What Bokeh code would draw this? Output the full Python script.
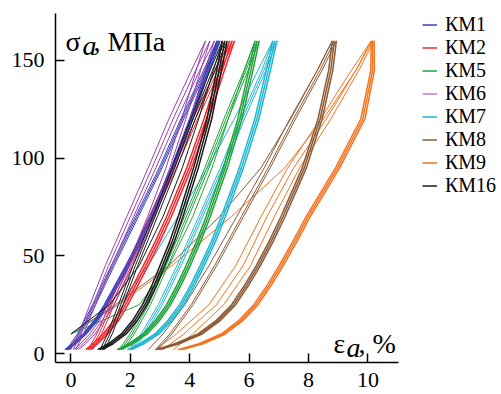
from bokeh.plotting import figure
from bokeh.models import Range1d, Legend, LegendItem, Label, FixedTicker
from bokeh.embed import file_html
from bokeh.resources import INLINE

STRESS_LOAD = [2, 5, 10, 17, 25, 35, 45, 57, 70, 95, 120, 145, 160]
STRESS_UNLOAD = [2, 10, 25, 45, 70, 95, 120, 145, 160]
STRESS_FIRST = [10, 25, 45, 70, 95, 120, 145, 160]

KM1_load = [[-0.20, 0.06, 0.41, 0.80, 1.13, 1.49, 1.85, 2.26, 2.67, 3.38, 4.00, 4.56, 4.92],
            [-0.15, 0.11, 0.46, 0.85, 1.18, 1.54, 1.90, 2.31, 2.72, 3.43, 4.05, 4.61, 4.97],
            [-0.10, 0.16, 0.51, 0.90, 1.23, 1.59, 1.95, 2.36, 2.77, 3.48, 4.10, 4.66, 5.02]]
KM1_unload = [[-0.15, 0.22, 0.73, 1.36, 2.17, 2.97, 3.70, 4.47, 4.92],
              [-0.10, 0.27, 0.78, 1.41, 2.22, 3.02, 3.75, 4.52, 4.97],
              [-0.05, 0.32, 0.83, 1.46, 2.27, 3.07, 3.80, 4.57, 5.02]]

KM6_load = [[0.10, 0.32, 0.63, 0.96, 1.25, 1.56, 1.87, 2.23, 2.58, 3.20, 3.73, 4.22, 4.53],
            [0.18, 0.41, 0.72, 1.06, 1.35, 1.67, 1.98, 2.34, 2.70, 3.33, 3.87, 4.37, 4.68],
            [0.26, 0.49, 0.81, 1.15, 1.45, 1.77, 2.09, 2.45, 2.82, 3.46, 4.01, 4.51, 4.83]]
KM6_unload = [[0.00, 0.25, 0.64, 1.16, 1.88, 2.60, 3.30, 4.06, 4.53],
              [0.08, 0.34, 0.74, 1.27, 2.00, 2.73, 3.44, 4.20, 4.68],
              [0.16, 0.42, 0.83, 1.37, 2.11, 2.86, 3.58, 4.34, 4.83]]

KM2_load = [[0.50, 0.74, 1.08, 1.45, 1.76, 2.10, 2.44, 2.83, 3.22, 3.90, 4.48, 5.01, 5.35],
            [0.58, 0.82, 1.16, 1.53, 1.84, 2.18, 2.52, 2.91, 3.30, 3.98, 4.56, 5.09, 5.43],
            [0.66, 0.90, 1.24, 1.61, 1.92, 2.26, 2.60, 2.99, 3.38, 4.06, 4.64, 5.17, 5.51]]
KM2_unload = [[0.58, 0.87, 1.30, 1.87, 2.63, 3.39, 4.11, 4.87, 5.35],
              [0.66, 0.95, 1.38, 1.95, 2.71, 3.47, 4.19, 4.95, 5.43],
              [0.74, 1.03, 1.46, 2.03, 2.79, 3.55, 4.27, 5.03, 5.51]]

KM16_load = [[0.90, 1.26, 1.70, 2.08, 2.41, 2.73, 3.00, 3.32, 3.61, 4.13, 4.58, 4.91, 5.10],
             [0.98, 1.34, 1.78, 2.16, 2.49, 2.81, 3.08, 3.40, 3.69, 4.21, 4.66, 4.99, 5.18],
             [1.06, 1.42, 1.86, 2.24, 2.57, 2.89, 3.16, 3.48, 3.77, 4.29, 4.74, 5.07, 5.26]]
KM16_unload = [[0.98, 1.23, 1.60, 2.09, 2.75, 3.41, 4.03, 4.69, 5.10],
               [1.06, 1.31, 1.68, 2.17, 2.83, 3.49, 4.11, 4.77, 5.18],
               [1.14, 1.39, 1.76, 2.25, 2.91, 3.57, 4.19, 4.85, 5.26]]
KM16_first = [0.0, 1.3, 2.3, 3.1, 3.75, 4.3, 4.8, 5.10]

KM5_load = [[1.55, 1.95, 2.43, 2.85, 3.22, 3.57, 3.88, 4.22, 4.55, 5.13, 5.62, 5.99, 6.20],
            [1.62, 2.02, 2.50, 2.92, 3.29, 3.64, 3.95, 4.29, 4.62, 5.20, 5.69, 6.06, 6.27],
            [1.69, 2.09, 2.57, 2.99, 3.36, 3.71, 4.02, 4.36, 4.69, 5.27, 5.76, 6.13, 6.34]]
KM5_unload = [[1.62, 1.99, 2.54, 3.13, 3.82, 4.51, 5.15, 5.83, 6.20],
              [1.69, 2.06, 2.61, 3.20, 3.89, 4.58, 5.22, 5.90, 6.27],
              [1.76, 2.13, 2.68, 3.27, 3.96, 4.65, 5.29, 5.97, 6.34]]
KM5_first = [0.0, 2.3, 3.3, 4.1, 4.75, 5.3, 5.85, 6.20]

KM7_load = [[1.90, 2.32, 2.83, 3.27, 3.66, 4.03, 4.35, 4.72, 5.06, 5.67, 6.19, 6.58, 6.80],
            [1.97, 2.39, 2.90, 3.34, 3.73, 4.10, 4.42, 4.79, 5.13, 5.74, 6.26, 6.65, 6.87],
            [2.04, 2.46, 2.97, 3.41, 3.80, 4.17, 4.49, 4.86, 5.20, 5.81, 6.33, 6.72, 6.94]]
KM7_unload = [[1.97, 2.36, 2.94, 3.57, 4.30, 5.03, 5.70, 6.43, 6.80],
              [2.04, 2.43, 3.01, 3.64, 4.37, 5.10, 5.77, 6.50, 6.87],
              [2.11, 2.50, 3.08, 3.71, 4.44, 5.17, 5.84, 6.57, 6.94]]
KM7_first = [0.0, 1.6, 2.6, 3.6, 4.6, 5.5, 6.3, 6.80]

KM8_load = [[2.85, 3.50, 4.28, 4.90, 5.41, 5.85, 6.24, 6.66, 7.07, 7.79, 8.32, 8.68, 8.80],
            [2.92, 3.57, 4.35, 4.97, 5.48, 5.92, 6.31, 6.73, 7.14, 7.86, 8.39, 8.75, 8.87],
            [2.99, 3.64, 4.42, 5.04, 5.55, 5.99, 6.38, 6.80, 7.21, 7.93, 8.46, 8.82, 8.94]]
KM8_unload = [[2.60, 3.10, 3.84, 4.65, 5.58, 6.51, 7.37, 8.30, 8.80],
              [2.85, 3.33, 4.05, 4.84, 5.74, 6.64, 7.49, 8.39, 8.87],
              [2.92, 3.40, 4.12, 4.91, 5.81, 6.71, 7.56, 8.46, 8.94]]
KM8_first = [0.0, 1.5, 3.3, 5.0, 6.4, 7.4, 8.3, 8.8]

KM9_load = [[3.60, 4.31, 5.06, 5.66, 6.16, 6.61, 7.01, 7.46, 7.92, 8.91, 9.76, 10.10, 10.11],
            [3.68, 4.38, 5.13, 5.73, 6.23, 6.68, 7.08, 7.53, 7.99, 8.98, 9.83, 10.16, 10.16],
            [3.75, 4.45, 5.20, 5.80, 6.30, 6.75, 7.15, 7.60, 8.06, 9.05, 9.90, 10.22, 10.21]]
KM9_unload = [[2.85, 3.55, 4.65, 5.55, 6.40, 7.30, 8.40, 9.45, 10.11],
              [3.10, 3.80, 4.90, 5.80, 6.60, 7.50, 8.60, 9.60, 10.16],
              [3.45, 4.10, 5.15, 6.05, 6.85, 7.70, 8.75, 9.70, 10.21]]
KM9_first = [0.0, 1.6, 3.4, 5.4, 7.2, 8.5, 9.6, 10.11]

X_TICKS = [0, 2, 4, 6, 8, 10]
Y_TICKS = [0, 50, 100, 150]

SAMPLES = [
    ("КМ1", "#3c41b4", KM1_load, KM1_unload, None),
    ("КМ2", "#ee2a30", KM2_load, KM2_unload, None),
    ("КМ5", "#22a33c", KM5_load, KM5_unload, KM5_first),
    ("КМ6", "#9b3fb0", KM6_load, KM6_unload, None),
    ("КМ7", "#21b7d0", KM7_load, KM7_unload, KM7_first),
    ("КМ8", "#8b5a35", KM8_load, KM8_unload, KM8_first),
    ("КМ9", "#f47320", KM9_load, KM9_unload, KM9_first),
    ("КМ16", "#1a1a1a", KM16_load, KM16_unload, KM16_first),
]
DRAW_ORDER = ["КМ9", "КМ8", "КМ7", "КМ5", "КМ2", "КМ1", "КМ6", "КМ16"]

FONT = "Liberation Serif"

# the frame runs to the right edge so the legend can sit inside it;
# the x axis line itself is limited to the data extent with axis bounds
p = figure(frame_width=446, frame_height=349, output_backend="svg", toolbar_location=None,
           x_range=Range1d(-0.52, 14.50), y_range=Range1d(-4.6, 174),
           min_border_left=55, min_border_top=13, min_border_bottom=32,
           min_border_right=0)
p.grid.visible = False
p.outline_line_color = None
p.background_fill_color = "white"

for ax, ticks in ((p.xaxis[0], X_TICKS), (p.yaxis[0], Y_TICKS)):
    ax.ticker = FixedTicker(ticks=ticks)
    ax.minor_tick_line_color = None
    ax.major_tick_in = 9
    ax.major_tick_out = 0
    ax.axis_line_width = 1.5
    ax.major_tick_line_width = 1.5
    ax.axis_line_color = "black"
    ax.major_tick_line_color = "black"
    ax.major_label_text_font = FONT
    ax.major_label_text_font_size = "22px"
    ax.major_label_text_color = "black"
p.xaxis.bounds = (-0.52, 11.03)
p.xaxis.major_label_standoff = 10
p.yaxis.major_label_standoff = 11

renderers = {}
lookup = {s[0]: s for s in SAMPLES}
for name in DRAW_ORDER:
    _, color, loads, unloads, first = lookup[name]
    thin = 1.0
    thick = 1.0 if name == "КМ6" else 1.5
    if first is not None:
        p.line(first, STRESS_FIRST, line_color=color, line_width=thin)
    for u in unloads:
        p.line(u, STRESS_UNLOAD, line_color=color, line_width=thin)
    for ld in loads:
        r = p.line(ld, STRESS_LOAD, line_color=color, line_width=thick)
    renderers[name] = r

items = [LegendItem(label=s[0], renderers=[renderers[s[0]]]) for s in SAMPLES]
legend = Legend(items=items, location=(367, 165), orientation="vertical",
                label_text_font=FONT, label_text_font_size="20px", label_text_color="black",
                label_height=23, glyph_height=23, glyph_width=15,
                label_standoff=8, spacing=0, padding=0, margin=0,
                border_line_alpha=0, background_fill_alpha=0)
p.add_layout(legend)

# axis titles (symbol, italic subscript, rest)
for txt, xo, yo, style in (("σ", 0, 0, "normal"), ("a", 17, -4, "italic"), (", МПа", 28, 0, "normal")):
    p.add_layout(Label(x=-0.18, y=159.7, x_offset=xo, y_offset=yo, text=txt,
                       text_font=FONT, text_font_size="28px", text_font_style=style,
                       text_baseline="alphabetic", text_color="black"))
for txt, xo, yo, style in (("ε", 0, 0, "normal"), ("a", 13, -4, "italic"), (", %", 25, 0, "normal")):
    p.add_layout(Label(x=8.84, y=5.1, x_offset=xo, y_offset=yo, text=txt,
                       text_font=FONT, text_font_size="28px", text_font_style=style,
                       text_baseline="alphabetic", text_color="black"))

open("out.html", "w").write(file_html(p, INLINE))
